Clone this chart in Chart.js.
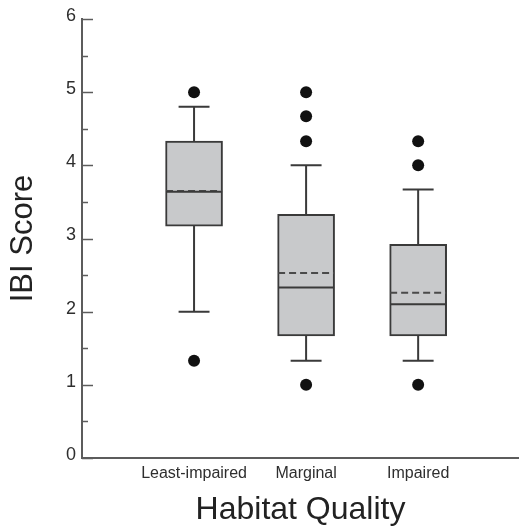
<!DOCTYPE html>
<html>
<head>
<meta charset="utf-8">
<script src="https://cdn.jsdelivr.net/npm/chart.js@4/dist/chart.umd.min.js"></script>
<style>
  html, body { margin: 0; padding: 0; background: #ffffff; overflow: hidden; width: 519px; height: 529px; }
  canvas { display: block; }
</style>
</head>
<body>
<canvas id="c" width="519" height="529"></canvas>
<script>
// ---- data ----
const categories = ['Least-impaired', 'Marginal', 'Impaired'];
const q1 = [3.17, 1.67, 1.67];
const q3 = [4.33, 3.33, 2.92];
const medians = [3.64, 2.33, 2.10];
const means = [3.65, 2.53, 2.26];
const whiskerLow = [2.00, 1.33, 1.33];
const whiskerHigh = [4.80, 4.00, 3.67];
const outliersLeast = [5.00, 1.33];
const outliersMarginal = [5.00, 4.67, 4.33, 1.00];
const outliersImpaired = [4.33, 4.00, 1.00];
const yTickValues = [0, 1, 2, 3, 4, 5, 6];
const xAxisTitle = 'Habitat Quality';
const yAxisTitle = 'IBI Score';

// ---- build library structures ----
const outlierLists = [outliersLeast, outliersMarginal, outliersImpaired];
const BOX_HALF = 0.25;   // half box width in x units
const CAP_HALF = 0.138;  // half whisker-cap width in x units
const LINE = '#3a3a3a';
const FONT = "'Liberation Sans', Arial, Helvetica, sans-serif";

const boxData = categories.map((c, i) => ({ x: i + 1, y: [q1[i], q3[i]] }));
const whiskerData = [];
const capData = [];
const medianData = [];
const meanData = [];
categories.forEach((c, i) => {
  const x = i + 1;
  whiskerData.push({ x, y: q3[i] }, { x, y: whiskerHigh[i] }, { x, y: null });
  whiskerData.push({ x, y: q1[i] }, { x, y: whiskerLow[i] }, { x, y: null });
  capData.push({ x: x - CAP_HALF, y: whiskerHigh[i] }, { x: x + CAP_HALF, y: whiskerHigh[i] }, { x, y: null });
  capData.push({ x: x - CAP_HALF, y: whiskerLow[i] }, { x: x + CAP_HALF, y: whiskerLow[i] }, { x, y: null });
  medianData.push({ x: x - BOX_HALF, y: medians[i] }, { x: x + BOX_HALF, y: medians[i] }, { x, y: null });
  meanData.push({ x: x - BOX_HALF, y: means[i] }, { x: x + BOX_HALF, y: means[i] }, { x, y: null });
});
const outlierData = [];
outlierLists.forEach((list, i) => list.forEach(v => outlierData.push({ x: i + 1, y: v })));

const lineDs = (data, extra) => Object.assign({
  type: 'line', data, borderColor: LINE, borderWidth: 2, pointRadius: 0,
  spanGaps: false, fill: false, tension: 0, order: 1
}, extra || {});

// inward y-axis tick marks (major + minor) drawn on the library's y scale
const inwardTicks = {
  id: 'inwardTicks',
  afterDatasetsDraw(chart) {
    const y = chart.scales.y;
    const left = chart.chartArea.left;
    const ctx = chart.ctx;
    ctx.save();
    ctx.strokeStyle = '#5c5c5c';
    ctx.lineWidth = 1.5;
    const vals = y.ticks.map(t => t.value);
    vals.forEach((v, k) => {
      const p = Math.round(y.getPixelForValue(v)) + 0.5;
      ctx.beginPath(); ctx.moveTo(left, p); ctx.lineTo(left + 11, p); ctx.stroke();
      if (k < vals.length - 1) {
        const m = Math.round(y.getPixelForValue((v + vals[k + 1]) / 2)) + 0.5;
        ctx.beginPath(); ctx.moveTo(left, m); ctx.lineTo(left + 6, m); ctx.stroke();
      }
    });
    ctx.restore();
  }
};

new Chart(document.getElementById('c'), {
  type: 'scatter',
  data: {
    datasets: [
      {
        type: 'bar', data: boxData, barThickness: 57,
        backgroundColor: '#c8c9cb', borderColor: LINE, borderWidth: 2,
        borderSkipped: false, order: 3
      },
      lineDs(whiskerData),
      lineDs(capData),
      lineDs(medianData),
      lineDs(meanData, { borderDash: [7, 4], borderColor: '#4a4a4a' }),
      {
        type: 'scatter', data: outlierData, pointRadius: 6, pointHoverRadius: 6,
        pointBackgroundColor: '#111111', pointBorderWidth: 0, order: 0
      }
    ]
  },
  options: {
    responsive: false,
    animation: false,
    events: [],
    layout: { autoPadding: false, padding: { top: 19, left: 0, right: 0, bottom: 0 } },
    plugins: { legend: { display: false }, tooltip: { enabled: false } },
    scales: {
      x: {
        type: 'linear', min: 0, max: 3.9, offset: false,
        afterFit: s => { s.height = 71; },
        afterBuildTicks: s => { s.ticks = categories.map((c, i) => ({ value: i + 1 })); },
        ticks: {
          padding: 6, color: '#2e2e2e', font: { family: FONT, size: 16 },
          callback: v => categories[v - 1], maxRotation: 0, autoSkip: false
        },
        grid: { display: true, drawOnChartArea: false, drawTicks: false },
        border: { display: true, color: '#5c5c5c', width: 2 },
        title: {
          display: true, text: xAxisTitle, color: '#222222',
          font: { family: FONT, size: 32 }, padding: { top: 0, bottom: 0 }
        }
      },
      y: {
        type: 'linear', min: 0, max: 6,
        afterFit: s => { s.width = 82; },
        afterBuildTicks: s => { s.ticks = yTickValues.map(v => ({ value: v })); },
        ticks: {
          padding: 6, color: '#2e2e2e', font: { family: FONT, size: 18 }, labelOffset: -3
        },
        grid: { display: true, drawOnChartArea: false, drawTicks: false },
        border: { display: true, color: '#5c5c5c', width: 2 },
        title: {
          display: true, text: yAxisTitle, color: '#222222',
          font: { family: FONT, size: 31 }, padding: { top: 5, bottom: 0 }
        }
      }
    }
  },
  plugins: [inwardTicks]
});
</script>
</body>
</html>
